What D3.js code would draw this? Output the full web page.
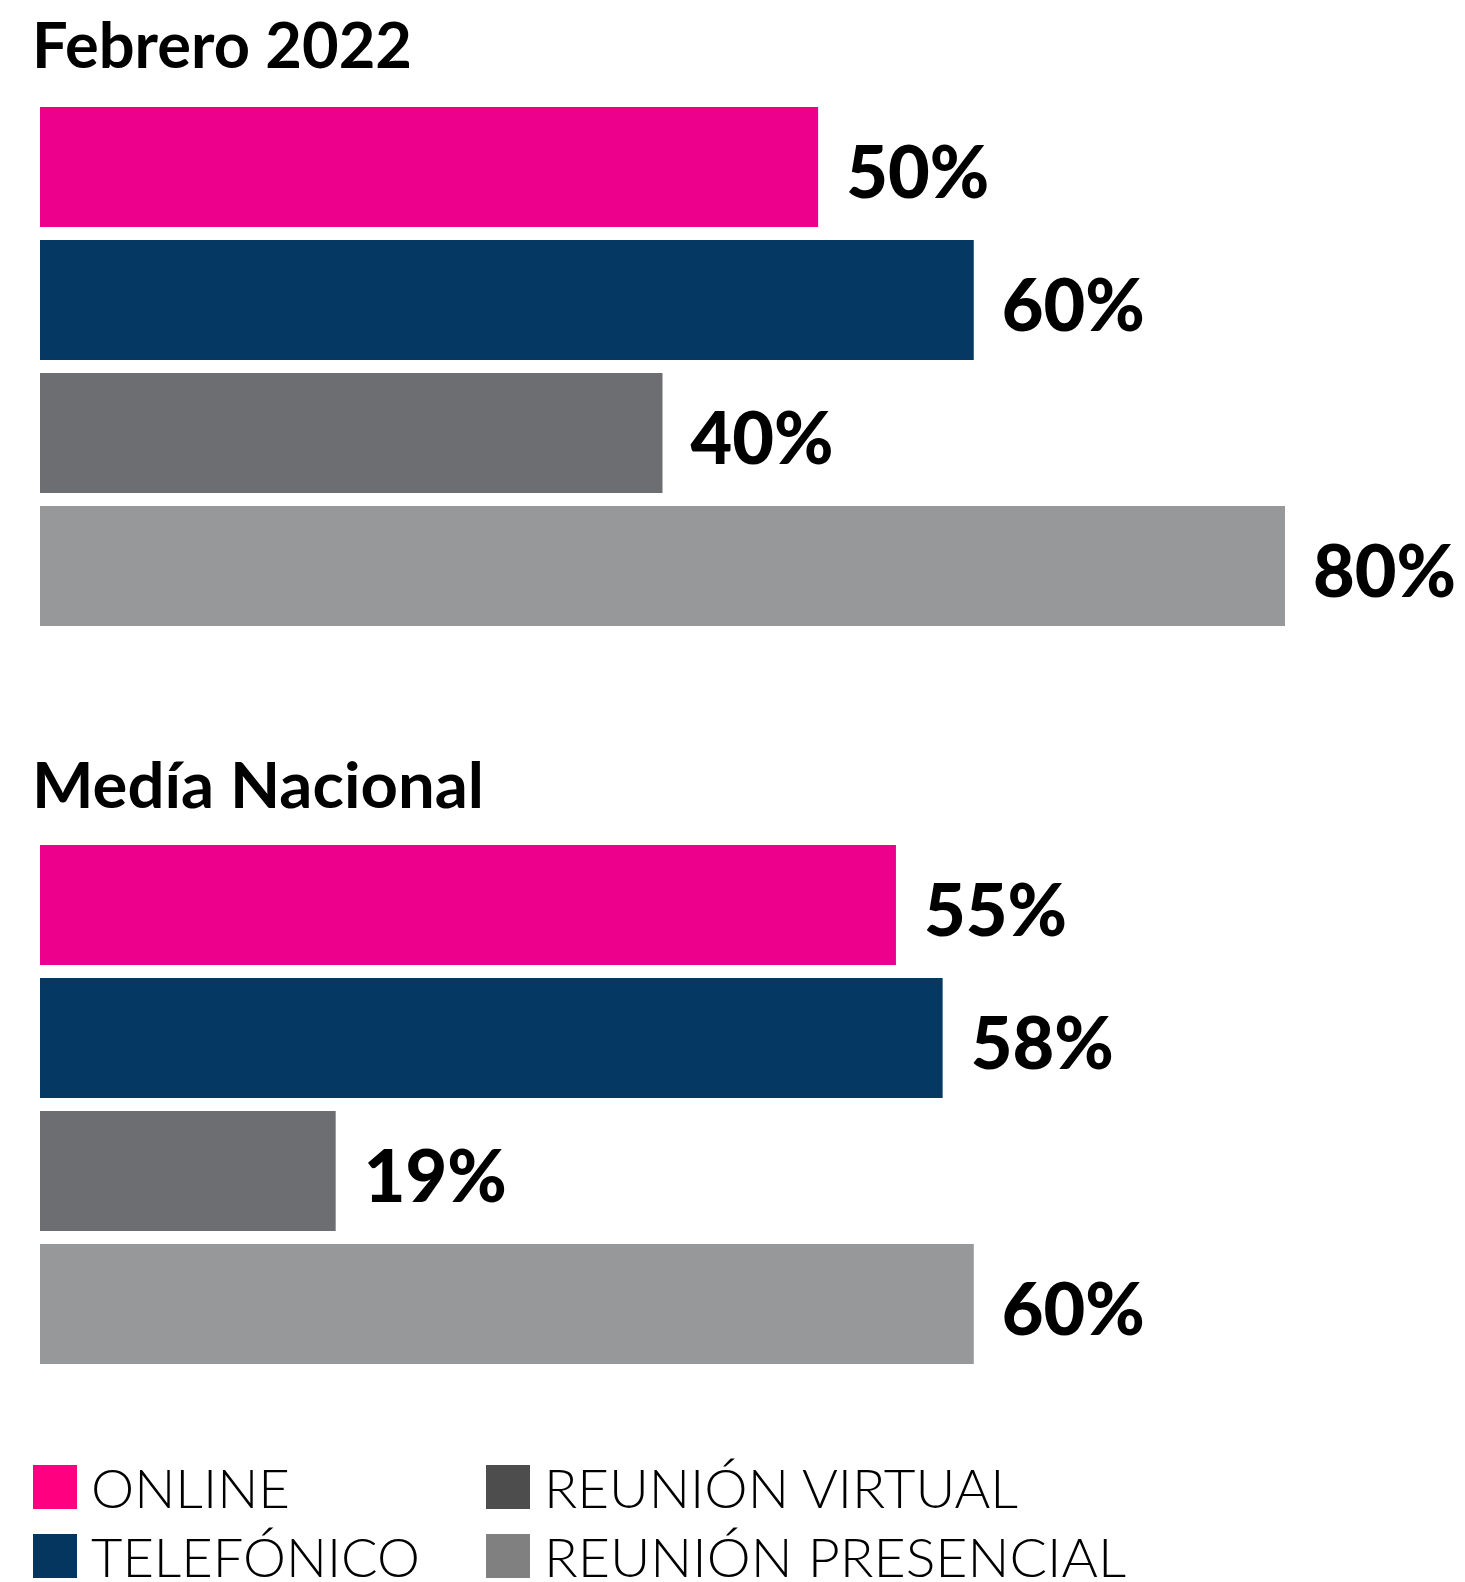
<!DOCTYPE html>
<html>
<head>
<meta charset="utf-8">
<script src="https://cdn.jsdelivr.net/npm/d3@7"></script>
<style>
  html, body { margin: 0; padding: 0; background: #ffffff; }
  svg { display: block; }
</style>
</head>
<body>
<svg id="chart" width="1465" height="1582"></svg>
<script>
// ---- data ----
const categories = ["ONLINE", "TELEFÓNICO", "REUNIÓN VIRTUAL", "REUNIÓN PRESENCIAL"];
const febreroValues = [50, 60, 40, 80];
const mediaValues = [55, 58, 19, 60];
const groupTitles = ["Febrero 2022", "Medía Nacional"];
const barColors = ["#EC008C", "#053862", "#6D6E71", "#97989A"];
const legendColors = ["#FF0080", "#04365F", "#4D4D4D", "#808080"];

const svg = d3.select("#chart");
const FONT = "Lato, 'Open Sans', sans-serif";

const x = d3.scaleLinear().domain([0, 80]).range([40, 1285]);

const groups = [
  { title: groupTitles[0], values: febreroValues, titleY: 68, titleW: 380, range: [107, 626] },
  { title: groupTitles[1], values: mediaValues, titleY: 808, titleW: 452, range: [845, 1364] }
];

groups.forEach(g => {
  const y = d3.scaleBand().domain(categories).range(g.range).paddingInner(13 / 133).paddingOuter(0);

  svg.append("text")
    .attr("x", 32).attr("y", g.titleY)
    .attr("font-family", FONT).attr("font-weight", 700)
    .attr("font-size", 64)
    .attr("textLength", g.titleW).attr("lengthAdjust", "spacingAndGlyphs")
    .attr("fill", "#000")
    .text(g.title);

  const data = categories.map((c, i) => ({ c, v: g.values[i], i }));

  svg.append("g").selectAll("rect").data(data).join("rect")
    .attr("x", x(0))
    .attr("y", d => y(d.c))
    .attr("width", d => x(d.v) - x(0))
    .attr("height", y.bandwidth())
    .attr("fill", d => barColors[d.i]);

  svg.append("g").selectAll("text").data(data).join("text")
    .attr("x", d => x(d.v) + 28)
    .attr("y", d => y(d.c) + y.bandwidth() / 2 + 31)
    .attr("font-family", FONT).attr("font-weight", 900)
    .attr("font-size", 72)
    .attr("fill", "#000")
    .text(d => d.v + "%");
});

// ---- legend ----
const legendPos = [
  { x: 33, y: 1465, tw: 199 },
  { x: 33, y: 1534, tw: 329 },
  { x: 486, y: 1465, tw: 474 },
  { x: 486, y: 1534, tw: 582 }
];
const lg = svg.append("g");
categories.forEach((c, i) => {
  const p = legendPos[i];
  lg.append("rect").attr("x", p.x).attr("y", p.y).attr("width", 44).attr("height", 44)
    .attr("fill", legendColors[i]);
  lg.append("text")
    .attr("x", p.x + 58).attr("y", p.y + 43)
    .attr("font-family", FONT).attr("font-weight", 300)
    .attr("font-size", 53)
    .attr("textLength", p.tw).attr("lengthAdjust", "spacingAndGlyphs")
    .attr("fill", "#000")
    .text(c);
});
</script>
</body>
</html>
